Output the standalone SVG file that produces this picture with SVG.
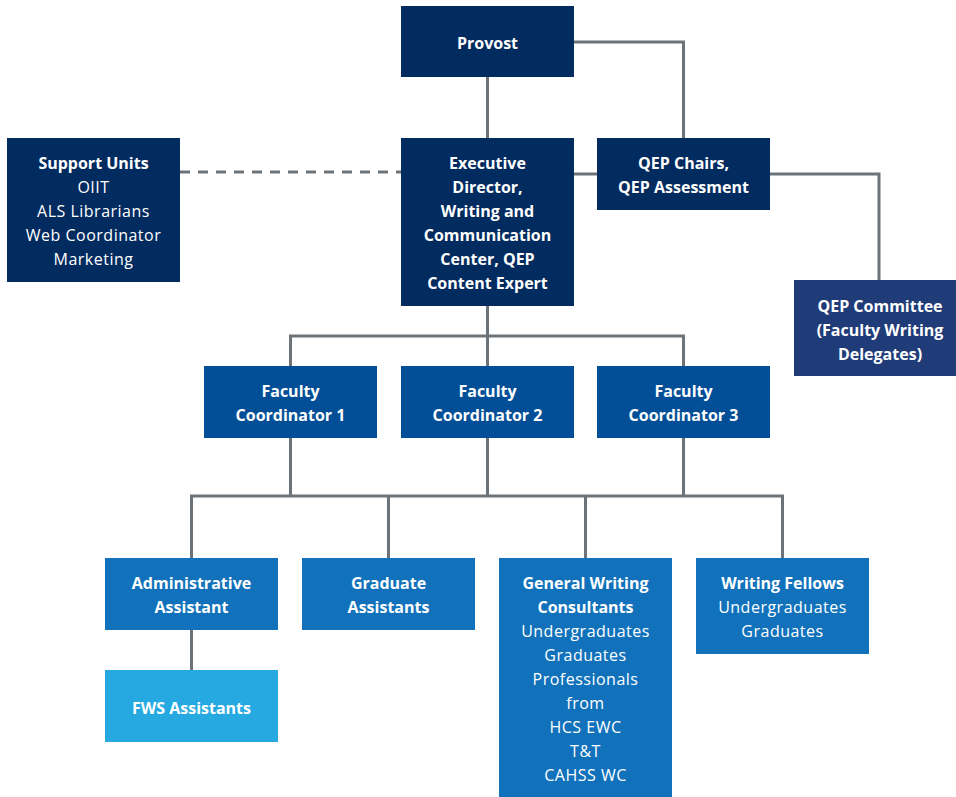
<svg xmlns="http://www.w3.org/2000/svg" width="956" height="797" viewBox="0 0 956 797">
<style>
text{font-family:"Open Sans","Liberation Sans",sans-serif;font-size:16px;fill:#ffffff;text-anchor:middle}
.b{font-weight:bold}
.r{font-weight:normal;letter-spacing:0.5px}
.navy{fill:#022b5f}
.cmt{fill:#1f3c79}
.fc{fill:#024f98}
.mid{fill:#1172bb}
.lt{fill:#25a9e0}
.ln{fill:none;stroke:#6c7479;stroke-width:3}
.dash{fill:none;stroke:#6c7479;stroke-width:3;stroke-dasharray:10 8}
</style>
<rect width="956" height="797" fill="#ffffff"/>
<g id="connectors">
<path class="ln" d="M487.5 77V138"/>
<path class="ln" d="M574 42H683.5V138"/>
<path class="ln" d="M574 174H597"/>
<path class="ln" d="M770 174H879V280"/>
<path class="dash" d="M180 172H401"/>
<path class="ln" d="M487.5 306V336"/>
<path class="ln" d="M290.5 366V336H683.5V366"/>
<path class="ln" d="M487.5 336V366"/>
<path class="ln" d="M290.5 438V496"/>
<path class="ln" d="M487.5 438V496"/>
<path class="ln" d="M683.5 438V496"/>
<path class="ln" d="M191.5 558V496H782.5V558"/>
<path class="ln" d="M388.5 496V558"/>
<path class="ln" d="M585.5 496V558"/>
<path class="ln" d="M191.5 630V670"/>
</g>
<g id="provost">
<rect class="navy" x="401" y="6" width="173" height="71"/>
<text class="b" x="487.5" y="49">Provost</text>
</g>
<g id="support-units">
<rect class="navy" x="7" y="138" width="173" height="144"/>
<text class="b" x="93.5" y="169">Support Units</text>
<text class="r" x="93.5" y="193">OIIT</text>
<text class="r" x="93.5" y="217">ALS Librarians</text>
<text class="r" x="93.5" y="241">Web Coordinator</text>
<text class="r" x="93.5" y="265">Marketing</text>
</g>
<g id="executive-director">
<rect class="navy" x="401" y="138" width="173" height="168"/>
<text class="b" x="487.5" y="169">Executive</text>
<text class="b" x="487.5" y="193">Director,</text>
<text class="b" x="487.5" y="217">Writing and</text>
<text class="b" x="487.5" y="241">Communication</text>
<text class="b" x="487.5" y="265">Center, QEP</text>
<text class="b" x="487.5" y="289">Content Expert</text>
</g>
<g id="qep-chairs">
<rect class="navy" x="597" y="138" width="173" height="72"/>
<text class="b" x="683.5" y="169">QEP Chairs,</text>
<text class="b" x="683.5" y="193">QEP Assessment</text>
</g>
<g id="qep-committee">
<rect class="cmt" x="794" y="280" width="162" height="96"/>
<text class="b" x="880" y="312">QEP Committee</text>
<text class="b" x="880" y="336">(Faculty Writing</text>
<text class="b" x="880" y="360">Delegates)</text>
</g>
<g id="faculty-coordinator-1">
<rect class="fc" x="204" y="366" width="173" height="72"/>
<text class="b" x="290.5" y="397">Faculty</text>
<text class="b" x="290.5" y="421">Coordinator 1</text>
</g>
<g id="faculty-coordinator-2">
<rect class="fc" x="401" y="366" width="173" height="72"/>
<text class="b" x="487.5" y="397">Faculty</text>
<text class="b" x="487.5" y="421">Coordinator 2</text>
</g>
<g id="faculty-coordinator-3">
<rect class="fc" x="597" y="366" width="173" height="72"/>
<text class="b" x="683.5" y="397">Faculty</text>
<text class="b" x="683.5" y="421">Coordinator 3</text>
</g>
<g id="administrative-assistant">
<rect class="mid" x="105" y="558" width="173" height="72"/>
<text class="b" x="191.5" y="589">Administrative</text>
<text class="b" x="191.5" y="613">Assistant</text>
</g>
<g id="graduate-assistants">
<rect class="mid" x="302" y="558" width="173" height="72"/>
<text class="b" x="388.5" y="589">Graduate</text>
<text class="b" x="388.5" y="613">Assistants</text>
</g>
<g id="general-writing-consultants">
<rect class="mid" x="499" y="558" width="173" height="239"/>
<text class="b" x="585.5" y="589">General Writing</text>
<text class="b" x="585.5" y="613">Consultants</text>
<text class="r" x="585.5" y="637">Undergraduates</text>
<text class="r" x="585.5" y="661">Graduates</text>
<text class="r" x="585.5" y="685">Professionals</text>
<text class="r" x="585.5" y="709">from</text>
<text class="r" x="585.5" y="733">HCS EWC</text>
<text class="r" x="585.5" y="757">T&amp;T</text>
<text class="r" x="585.5" y="781">CAHSS WC</text>
</g>
<g id="writing-fellows">
<rect class="mid" x="696" y="558" width="173" height="96"/>
<text class="b" x="782.5" y="589">Writing Fellows</text>
<text class="r" x="782.5" y="613">Undergraduates</text>
<text class="r" x="782.5" y="637">Graduates</text>
</g>
<g id="fws-assistants">
<rect class="lt" x="105" y="670" width="173" height="72"/>
<text class="b" x="191.5" y="714">FWS Assistants</text>
</g>
</svg>
